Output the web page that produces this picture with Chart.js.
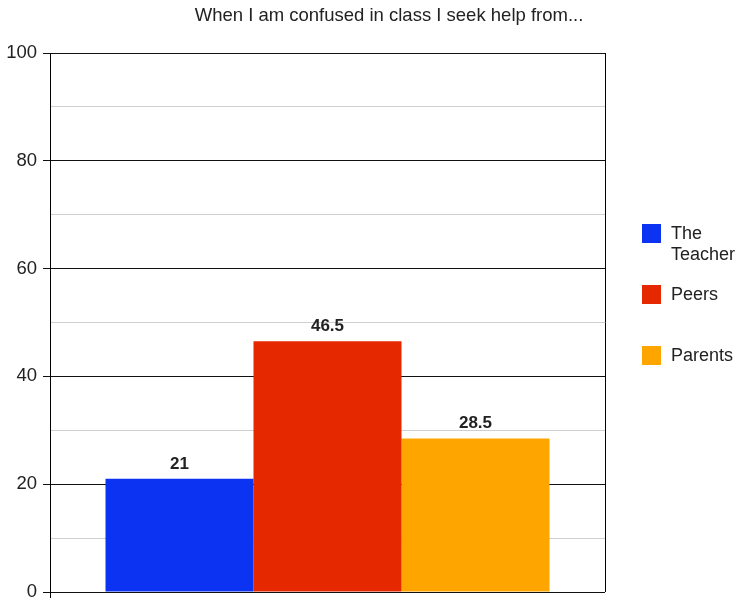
<!DOCTYPE html>
<html>
<head>
<meta charset="utf-8">
<title>When I am confused in class I seek help from...</title>
<script src="https://cdn.jsdelivr.net/npm/chart.js@4.4.1/dist/chart.umd.min.js"></script>
<style>
    html, body { margin: 0; padding: 0; background: #fff; }
    #wrap { width: 739px; height: 601px; position: relative; }
</style>
</head>
<body>
<div id="wrap"><canvas id="helpChart" width="739" height="601"></canvas></div>
<script>
// Dữ liệu biểu đồ
const chartTitle = 'When I am confused in class I seek help from...';
const categories = [''];
const seriesLabels = ['The Teacher', 'Peers', 'Parents'];
const seriesValues = [21, 46.5, 28.5];
const seriesColors = ['#0d33f2', '#e52800', '#ffa500'];
const yTickLabels = [0, 20, 40, 60, 80, 100];

const FONT = "'Liberation Sans', Arial, sans-serif";

// Tiêu đề, khung bên phải, nhãn giá trị và chú thích (vẽ tay)
const decorPlugin = {
    id: 'decor',
    afterDraw(chart) {
        const ctx = chart.ctx;
        const area = chart.chartArea;
        ctx.save();

        // Title
        ctx.fillStyle = '#222';
        ctx.font = `18.5px ${FONT}`;
        ctx.textAlign = 'center';
        ctx.textBaseline = 'middle';
        ctx.fillText(chartTitle, 389, 16);

        // Right border + small extension of y axis below zero
        ctx.strokeStyle = '#000';
        ctx.lineWidth = 1;
        ctx.beginPath();
        ctx.moveTo(area.right + 0.5, area.top);
        ctx.lineTo(area.right + 0.5, area.bottom);
        ctx.moveTo(area.left + 0.5, area.bottom);
        ctx.lineTo(area.left + 0.5, area.bottom + 6);
        ctx.stroke();

        // Value labels above bars
        ctx.font = `bold 17px ${FONT}`;
        ctx.fillStyle = '#222';
        ctx.textAlign = 'center';
        ctx.textBaseline = 'alphabetic';
        chart.data.datasets.forEach((ds, i) => {
            const meta = chart.getDatasetMeta(i);
            meta.data.forEach((bar, j) => {
                ctx.fillText(String(ds.data[j]), bar.x, bar.y - 10);
            });
        });

        // Legend on the right
        ctx.font = `18px ${FONT}`;
        ctx.textAlign = 'left';
        ctx.textBaseline = 'middle';
        const boxX = 642, textX = 671, maxW = 739 - textX;
        chart.data.datasets.forEach((ds, i) => {
            const top = 224 + i * 61;
            ctx.fillStyle = ds.backgroundColor;
            ctx.fillRect(boxX, top, 19, 19);

            // wrap words
            const words = ds.label.split(' ');
            const lines = [];
            let cur = '';
            words.forEach(w => {
                const test = cur ? cur + ' ' + w : w;
                if (cur && ctx.measureText(test).width > maxW) {
                    lines.push(cur);
                    cur = w;
                } else {
                    cur = test;
                }
            });
            lines.push(cur);

            ctx.fillStyle = '#222';
            lines.forEach((line, k) => {
                ctx.fillText(line, textX, top + 10 + k * 21);
            });
        });

        ctx.restore();
    }
};

const ctx = document.getElementById('helpChart').getContext('2d');
new Chart(ctx, {
    type: 'bar',
    data: {
        labels: categories,
        datasets: seriesLabels.map((label, i) => ({
            label: label,
            data: [seriesValues[i]],
            backgroundColor: seriesColors[i],
            borderWidth: 0,
            categoryPercentage: 0.8,
            barPercentage: 1.0
        }))
    },
    options: {
        responsive: false,
        animation: false,
        layout: { padding: { top: 53, right: 134, bottom: 9, left: 0 } },
        plugins: {
            legend: { display: false },
            title: { display: false },
            tooltip: { enabled: false }
        },
        scales: {
            x: { display: false },
            y: {
                min: 0,
                max: 100,
                afterFit: (scale) => {
                    scale.width = 50;
                    scale.paddingTop = 0;
                    scale.paddingBottom = 0;
                },
                border: { display: true, color: '#000', width: 1 },
                grid: {
                    color: (c) => (c.tick && yTickLabels.includes(c.tick.value)) ? '#111' : '#cfcfcf',
                    tickColor: (c) => (c.tick && yTickLabels.includes(c.tick.value)) ? '#111' : 'rgba(0,0,0,0)',
                    tickLength: 7
                },
                ticks: {
                    stepSize: 10,
                    padding: 6,
                    color: '#222',
                    font: { size: 18.5, family: FONT },
                    callback: (value) => yTickLabels.includes(value) ? String(value) : ''
                }
            }
        }
    },
    plugins: [decorPlugin]
});
</script>
</body>
</html>
